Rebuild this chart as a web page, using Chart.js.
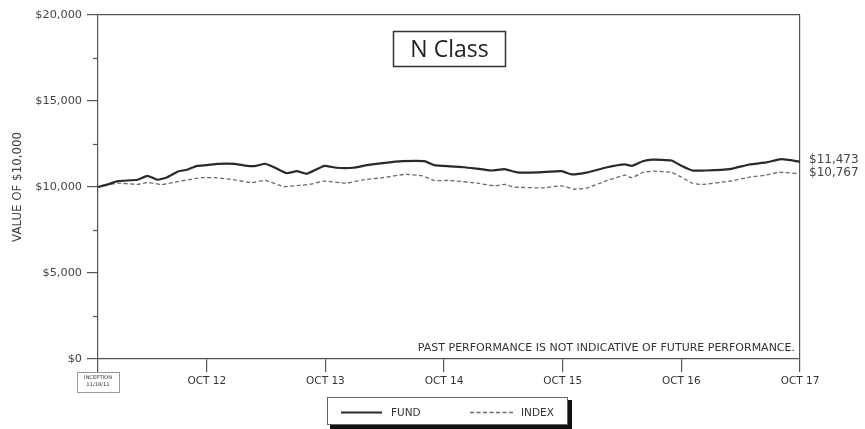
<!DOCTYPE html>
<html>
<head>
<meta charset="utf-8">
<script src="https://cdn.jsdelivr.net/npm/chart.js@4.4.1/dist/chart.umd.min.js"></script>
<style>
html,body{margin:0;padding:0;background:#fff;}
#wrap{width:865px;height:429px;position:relative;}
</style>
</head>
<body>
<div id="wrap"><canvas id="c" width="865" height="429"></canvas></div>
<script>
// ---- Data (months since inception 11/18/11, value of $10,000) ----
const fundMonths = [0,1,2,4,5,6,7,8.1,9,10,11,12.1,13.8,15.1,16,16.9,17.9,19.1,20.1,21.1,22.9,24.1,25.8,27.2,28.8,30.8,33,34,35.6,37.1,39.8,41.1,42.4,44.5,46.9,47.9,49.5,51.5,53.3,54,55.1,56.1,58,59,60.1,61.5,63.9,65.9,67.6,69.1,71];
const fundValues = [10000,10150,10340,10420,10650,10420,10570,10900,11000,11230,11270,11350,11350,11230,11230,11350,11120,10800,10920,10770,11230,11120,11120,11270,11390,11500,11500,11270,11200,11150,10960,11040,10850,10850,10920,10730,10850,11150,11310,11230,11500,11590,11540,11230,10960,10960,11040,11310,11430,11620,11473];
const indexMonths = [0,2,4,5,6.4,7.8,9.1,10.5,11.8,13.8,15.5,16.9,18.8,20.4,21.4,22.9,25.1,26.8,28.8,31,32.8,34,35.6,38.4,40.1,41.1,42.1,44.9,46.9,48.2,49.5,51.5,53.3,54,55.1,56.1,58,59,60.1,61.1,63.9,65.9,67.6,68.9,71];
const indexValues = [10000,10220,10150,10260,10150,10280,10420,10540,10540,10420,10260,10380,10030,10100,10150,10340,10220,10420,10540,10730,10650,10380,10380,10220,10070,10150,10000,9950,10070,9870,9950,10380,10690,10540,10850,10920,10850,10570,10220,10150,10340,10570,10690,10850,10767];
const xTickMonths = [0,11,23,35,47,59,71];
const xTickLabels = [['INCEPTION','11/18/11'],'OCT 12','OCT 13','OCT 14','OCT 15','OCT 16','OCT 17'];
const yMajorTicks = [0,5000,10000,15000,20000];
const yMinorTicks = [2500,7500,12500,17500];
const seriesNames = ['FUND','INDEX'];
const endLabels = ['$11,473','$10,767'];
const chartTitle = 'N Class';
const yTitle = 'VALUE OF $10,000';
const disclaimer = 'PAST PERFORMANCE IS NOT INDICATIVE OF FUTURE PERFORMANCE.';

const FONT = "'DejaVu Sans', sans-serif";
const TFONT = "'Open Sans', 'DejaVu Sans', sans-serif";
const AXIS = '#555';

function pts(xs, ys){ return xs.map((x,i)=>({x:x, y:ys[i]})); }

const decor = {
  id:'decor',
  afterDraw(chart){
    const ctx = chart.ctx, xs = chart.scales.x, ys = chart.scales.y;
    ctx.save();
    // minor y ticks
    ctx.strokeStyle = AXIS; ctx.lineWidth = 1.2;
    yMinorTicks.forEach(v=>{
      const py = Math.round(ys.getPixelForValue(v))+0.5;
      ctx.beginPath(); ctx.moveTo(xs.left-5, py); ctx.lineTo(xs.left, py); ctx.stroke();
    });
    // inception box
    const ix = xs.getPixelForValue(xTickMonths[0]);
    ctx.strokeStyle = '#999'; ctx.lineWidth = 1;
    ctx.strokeRect(Math.round(ix-21)+0.5, 372.5, 42, 20);
    // end labels
    ctx.fillStyle = '#444'; ctx.font = '12px '+FONT;
    ctx.textAlign = 'left'; ctx.textBaseline = 'middle';
    const fy = ys.getPixelForValue(fundValues[fundValues.length-1]);
    const iy = ys.getPixelForValue(indexValues[indexValues.length-1]);
    ctx.fillText(endLabels[0], xs.right+9, fy-2);
    ctx.fillText(endLabels[1], xs.right+9, iy-1);
    // disclaimer
    ctx.font = '11px '+FONT; ctx.textAlign='right'; ctx.fillStyle='#333';
    ctx.fillText(disclaimer, xs.right-5, ys.bottom-11);
    // title box
    ctx.fillStyle='#fff'; ctx.fillRect(393,31,113,36);
    ctx.strokeStyle='#333'; ctx.lineWidth=1.5; ctx.strokeRect(393.5,31.5,112,35);
    ctx.fillStyle='#222'; ctx.font='23px '+TFONT; ctx.textAlign='center'; ctx.textBaseline='middle';
    ctx.fillText(chartTitle, 449.5, 50);
    // legend box
    ctx.fillStyle='#111'; ctx.fillRect(330,400,242,29);
    ctx.fillStyle='#fff'; ctx.fillRect(327,397,241,28);
    ctx.strokeStyle='#666'; ctx.lineWidth=1; ctx.strokeRect(327.5,397.5,240,27);
    const ds = chart.data.datasets;
    ctx.lineWidth = ds[0].borderWidth; ctx.strokeStyle = ds[0].borderColor; ctx.setLineDash([]);
    ctx.beginPath(); ctx.moveTo(341,412.5); ctx.lineTo(382,412.5); ctx.stroke();
    ctx.lineWidth = ds[1].borderWidth; ctx.strokeStyle = ds[1].borderColor; ctx.setLineDash(ds[1].borderDash);
    ctx.beginPath(); ctx.moveTo(470,412.5); ctx.lineTo(513,412.5); ctx.stroke();
    ctx.setLineDash([]);
    ctx.fillStyle='#333'; ctx.font='10.5px '+FONT; ctx.textAlign='left'; ctx.textBaseline='middle';
    ctx.fillText(seriesNames[0], 391, 413);
    ctx.fillText(seriesNames[1], 521, 413);
    ctx.restore();
  }
};

new Chart(document.getElementById('c'), {
  type:'line',
  data:{
    datasets:[
      {label:seriesNames[0], data:pts(fundMonths,fundValues), borderColor:'#2a2a2a', borderWidth:2.2, pointRadius:0, tension:0.15, fill:false},
      {label:seriesNames[1], data:pts(indexMonths,indexValues), borderColor:'#6a6a6a', borderWidth:1.3, borderDash:[4,2.5], pointRadius:0, tension:0.15, fill:false}
    ]
  },
  options:{
    responsive:false, animation:false, devicePixelRatio:1,
    layout:{padding:{left:0,right:65,top:15,bottom:0}},
    plugins:{legend:{display:false}, tooltip:{enabled:false}},
    scales:{
      x:{
        type:'linear', min:0, max:71,
        afterBuildTicks(s){ s.ticks = xTickMonths.map(v=>({value:v})); },
        afterFit(s){ s.height = 70; },
        ticks:{
          autoSkip:false, maxRotation:0, padding:3,
          callback:(v,i)=>xTickLabels[i],
          color:'#333',
          font:(c)=> c.index===0 ? {family:FONT,size:5.2} : {family:FONT,size:10.5}
        },
        grid:{
          drawOnChartArea:true, tickLength:13, lineWidth:1.2,
          color:(c)=> (c.tick && c.tick.value===71) ? AXIS : 'rgba(0,0,0,0)',
          tickColor:AXIS
        },
        border:{display:true, color:AXIS, width:1.2}
      },
      y:{
        min:0, max:20000,
        afterBuildTicks(s){ s.ticks = yMajorTicks.map(v=>({value:v})); },
        afterFit(s){ s.width = 98; },
        ticks:{
          padding:5, color:'#444', font:{family:FONT,size:11.3},
          callback:(v)=>'$'+v.toLocaleString('en-US')
        },
        title:{display:true, text:yTitle, color:'#444', font:{family:FONT,size:11.8}, padding:{top:11,bottom:0}},
        grid:{
          drawOnChartArea:true, tickLength:11, lineWidth:1.2,
          color:(c)=> (c.tick && c.tick.value===20000) ? AXIS : 'rgba(0,0,0,0)',
          tickColor:AXIS
        },
        border:{display:true, color:AXIS, width:1.2}
      }
    }
  },
  plugins:[decor]
});
</script>
</body>
</html>
